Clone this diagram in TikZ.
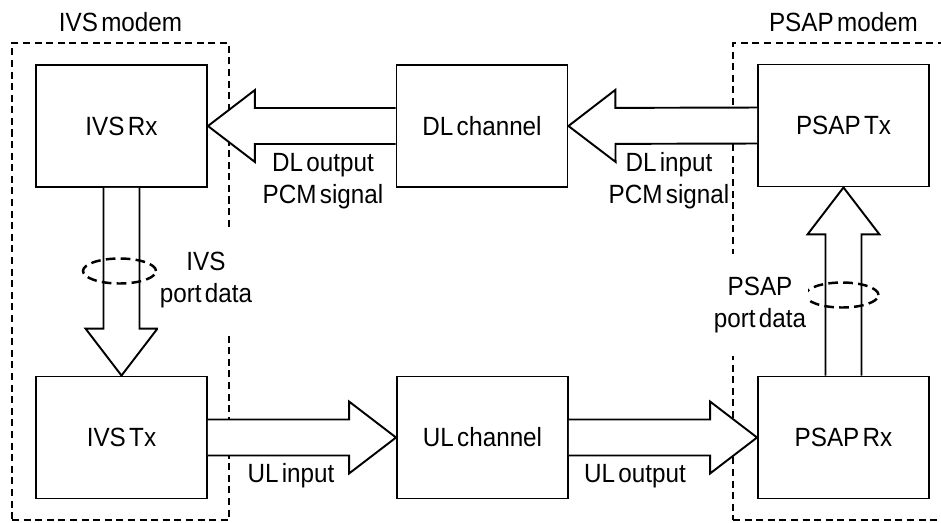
\documentclass[tikz,border=0pt]{standalone}
\usepackage{fontspec}
\setmainfont[WordSpace=0.5,FakeStretch=0.92]{Liberation Sans}
\usetikzlibrary{calc,shapes.geometric}

\begin{document}
\begin{tikzpicture}[x=0.02cm,y=-0.02cm,font=\fontsize{15}{18.2}\selectfont]
  \tikzstyle{block}=[draw,line width=1.1pt,minimum width=3.42cm,minimum height=2.44cm,inner sep=0pt]
  \tikzstyle{modem}=[draw,line width=1.2pt,dash pattern=on 4pt off 2.6pt,minimum height=9.54cm,inner sep=0pt]
  \tikzstyle{fat}=[draw,fill=white,line width=1.1pt,line join=miter]
  \tikzstyle{ring}=[ellipse,draw,line width=1.4pt,dash pattern=on 5.5pt off 3pt,minimum width=1.46cm,minimum height=0.5cm,inner sep=0pt]
  \tikzstyle{lbl}=[align=center,inner sep=1pt]
  \useasboundingbox (0,0) rectangle (941,522);

  \node[modem, minimum width=4.34cm] (IVS_modem) at (120.5,281.5) {};
  \node[modem, minimum width=4.54cm] (PSAP_modem) at (846.5,281.5) {};
  \node (IVS_title) at (120.5,22) {IVS modem};
  \node (PSAP_title) at (843.5,22) {PSAP modem};

  \node[block] (IVS_Rx) at (121.5,126) {IVS Rx};
  \node[block] (DL_ch) at (482,126) {DL channel};
  \node[block] (PSAP_Tx) at (843.5,125.5) {PSAP Tx};
  \node[block] (IVS_Tx) at (121.5,437.5) {IVS Tx};
  \node[block] (UL_ch) at (482.5,437.5) {UL channel};
  \node[block] (PSAP_Rx) at (843.5,437.5) {PSAP Rx};

  \foreach \s/\e in {DL_ch.west/IVS_Rx.east, PSAP_Tx.west/DL_ch.east, IVS_Tx.east/UL_ch.west,
                     UL_ch.east/PSAP_Rx.west, IVS_Rx.south/IVS_Tx.north, PSAP_Rx.north/PSAP_Tx.south}
  {
    \coordinate (b) at ($(\e)!0.94cm!(\s)$);
    \draw[fat] ($(\s)!0.36cm!90:(\e)$) -- ($(b)!0.36cm!-90:(\s)$) -- ($(b)!0.72cm!-90:(\s)$) -- (\e)
      -- ($(b)!0.72cm!90:(\s)$) -- ($(b)!0.36cm!90:(\s)$) -- ($(\s)!0.36cm!-90:(\e)$);
  }

  \node[ring] (IVS_ring) at (119.5,271) {};
  \node[ring] (PSAP_ring) at (842,295) {};

  \node[lbl] (DL_out) at (323,181) {DL output\\PCM signal};
  \node[lbl] (DL_in) at (669,181) {DL input\\PCM signal};
  \node[lbl] (UL_in) at (291,476) {UL input};
  \node[lbl] (UL_out) at (635,476) {UL output};
  \node[lbl, fill=white, inner ysep=0.46cm] (IVS_port) at (206,280) {IVS\\port data};
  \node[lbl, fill=white, inner ysep=0.46cm] (PSAP_port) at (760,305) {PSAP\\port data};
\end{tikzpicture}
\end{document}
